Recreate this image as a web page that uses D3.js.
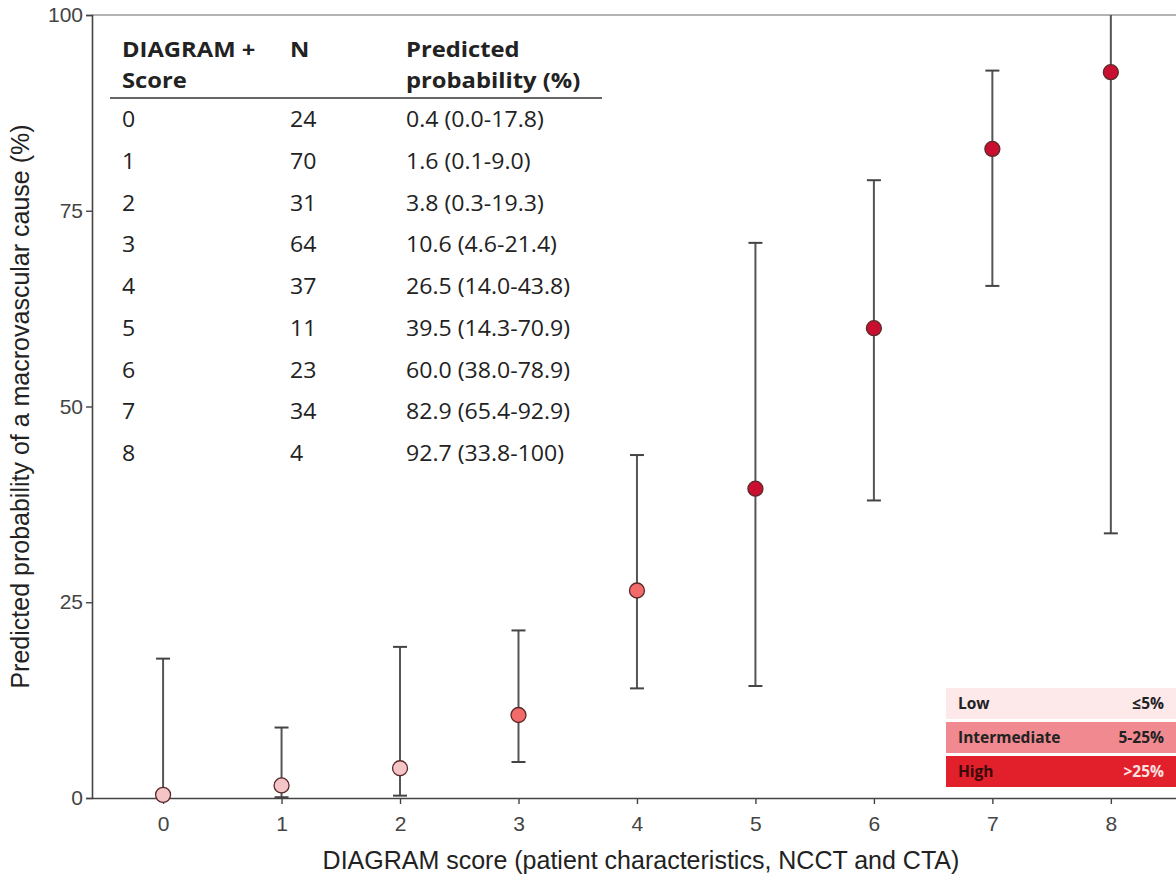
<!DOCTYPE html>
<html><head><meta charset="utf-8">
<script src="https://cdn.jsdelivr.net/npm/d3@7"></script>
<style>body{margin:0;background:#fff}svg{display:block}</style>
</head><body>
<svg id="c" width="1176" height="880"></svg>
<script>
const scores = [0,1,2,3,4,5,6,7,8];
const counts = [24,70,31,64,37,11,23,34,4];
const prob = [0.4,1.6,3.8,10.6,26.5,39.5,60.0,82.9,92.7];
const lower = [0.0,0.1,0.3,4.6,14.0,14.3,38.0,65.4,33.8];
const upper = [17.8,9.0,19.3,21.4,43.8,70.9,78.9,92.9,100];
const riskGroup = ["low","low","low","int","int","high","high","high","high"];
const yTicks = [0,25,50,75,100];
const probLabels = ["0.4 (0.0-17.8)","1.6 (0.1-9.0)","3.8 (0.3-19.3)","10.6 (4.6-21.4)","26.5 (14.0-43.8)","39.5 (14.3-70.9)","60.0 (38.0-78.9)","82.9 (65.4-92.9)","92.7 (33.8-100)"];
const legendNames = ["Low","Intermediate","High"];
const legendRanges = ["≤5%","5-25%",">25%"];

const pointColor = {low:"#f4c4c7", int:"#f26a6a", high:"#c80f30"};
const legendColor = ["#fde8ea","#f08990","#e2202b"];

const svg = d3.select("#c");
const x = d3.scaleLinear().domain([-0.6, 8.55]).range([92, 1176]);
const y = d3.scaleLinear().domain([0,100]).range([798, 15]);
const axisFont = "Liberation Sans, Arial, sans-serif";
const tableFont = "Open Sans, Noto Sans, sans-serif";

function stretch(sel, f){
  sel.each(function(){
    const w = this.getComputedTextLength();
    d3.select(this).attr("textLength", w*f).attr("lengthAdjust","spacingAndGlyphs");
  });
}

// top border
svg.append("line").attr("x1",92).attr("x2",1176).attr("y1",y(100)).attr("y2",y(100))
  .attr("stroke","#9a9a9a").attr("stroke-width",1.6);

// y axis
const ya = svg.append("g").attr("transform","translate(92,0)")
  .call(d3.axisLeft(y).tickValues(yTicks).tickSize(6).tickPadding(3));
ya.select(".domain").attr("stroke","#444").attr("stroke-width",1.6);
ya.selectAll(".tick line").attr("stroke","#444").attr("stroke-width",1.4);
ya.selectAll("text").attr("font-family",axisFont).attr("font-size",21).attr("fill","#444");

// x axis
const xa = svg.append("g").attr("transform","translate(0,798)")
  .call(d3.axisBottom(x).tickValues(scores).tickSize(6).tickPadding(12).tickSizeOuter(0));
xa.select(".domain").attr("stroke","#444").attr("stroke-width",1.6);
xa.selectAll(".tick line").attr("stroke","#444").attr("stroke-width",1.4);
xa.selectAll("text").attr("font-family",axisFont).attr("font-size",21).attr("fill","#444");

// axis titles
svg.append("text").attr("x",x(4)+4).attr("y",869).attr("text-anchor","middle")
  .attr("font-family",axisFont).attr("font-size",25).attr("fill","#222")
  .text("DIAGRAM score (patient characteristics, NCCT and CTA)");
svg.append("text").attr("transform",`translate(29,${y(50)}) rotate(-90)`).attr("text-anchor","middle")
  .attr("font-family",axisFont).attr("font-size",25).attr("fill","#222")
  .text("Predicted probability of a macrovascular cause (%)");

// error bars
const eb = svg.append("g").selectAll("g").data(scores).join("g");
eb.append("line").attr("x1",d=>x(d)).attr("x2",d=>x(d))
  .attr("y1",d=>y(lower[d])).attr("y2",d=>y(upper[d]))
  .attr("stroke","#555").attr("stroke-width",2);
eb.filter(d=>upper[d]<100).append("line").attr("x1",d=>x(d)-7).attr("x2",d=>x(d)+7)
  .attr("y1",d=>y(upper[d])).attr("y2",d=>y(upper[d])).attr("stroke","#444").attr("stroke-width",2);
eb.append("line").attr("x1",d=>x(d)-7).attr("x2",d=>x(d)+7)
  .attr("y1",d=>y(lower[d])).attr("y2",d=>y(lower[d])).attr("stroke","#444").attr("stroke-width",2);

// points
svg.append("g").selectAll("circle").data(scores).join("circle")
  .attr("cx",d=>x(d)).attr("cy",d=>y(prob[d])).attr("r",7.5)
  .attr("fill",d=>pointColor[riskGroup[d]]).attr("stroke","#5a2a2a").attr("stroke-width",1.3);

// table
const cols = [122, 290, 406];
const tb = svg.append("g").attr("font-family",tableFont).attr("fill","#222");
const hdr = [["DIAGRAM +","Score"],["N",""],["Predicted","probability (%)"]];
hdr.forEach((h,i)=>{
  tb.append("text").attr("class","h").attr("x",cols[i]).attr("y",57).attr("font-size",22).attr("font-weight","bold").text(h[0]);
  if(h[1]) tb.append("text").attr("class","h").attr("x",cols[i]).attr("y",88).attr("font-size",22).attr("font-weight","bold").text(h[1]);
});
svg.append("line").attr("x1",110).attr("x2",602).attr("y1",98).attr("y2",98).attr("stroke","#666").attr("stroke-width",2);
const rowY = d3.scaleLinear().domain([0,8]).range([127,461]);
scores.forEach(s=>{
  tb.append("text").attr("class","r").attr("x",cols[0]).attr("y",rowY(s)).attr("font-size",21).text(s);
  tb.append("text").attr("class","r").attr("x",cols[1]).attr("y",rowY(s)).attr("font-size",21).text(counts[s]);
  tb.append("text").attr("class","r").attr("x",cols[2]).attr("y",rowY(s)).attr("font-size",21).text(probLabels[s]);
});
stretch(tb.selectAll("text.h"), 1.08);
stretch(tb.selectAll("text.r"), 1.1);

// legend
const lg = svg.append("g");
legendNames.forEach((n,i)=>{
  const top = 688 + i*34;
  lg.append("rect").attr("x",946).attr("y",top).attr("width",230).attr("height",31).attr("fill",legendColor[i]);
  lg.append("text").attr("x",958).attr("y",top+21).attr("font-family",tableFont).attr("font-size",15.5)
    .attr("font-weight","bold").attr("fill",i==2?"#3a0a0a":"#222").text(n);
  lg.append("text").attr("x",1164).attr("y",top+21).attr("text-anchor","end").attr("font-family",tableFont)
    .attr("font-size",15.5).attr("font-weight","bold").attr("fill",i==2?"#fde0e0":"#222").text(legendRanges[i]);
});
</script>
</body></html>
